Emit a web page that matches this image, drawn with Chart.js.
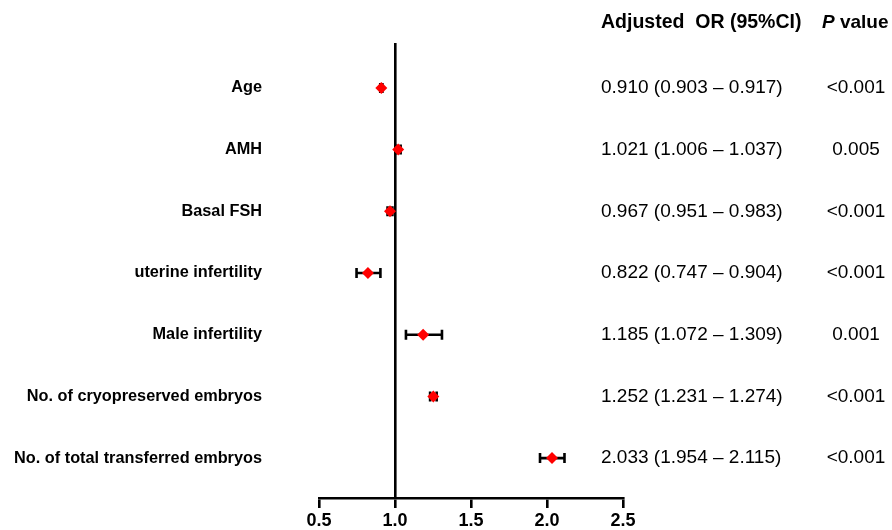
<!DOCTYPE html>
<html>
<head>
<meta charset="utf-8">
<script src="https://cdn.jsdelivr.net/npm/chart.js@4"></script>
<style>
html,body{margin:0;padding:0;background:#fff;}
#wrap{width:892px;height:530px;position:relative;}
</style>
</head>
<body>
<div id="wrap"><canvas id="c" width="892" height="530"></canvas></div>
<script>
const categories = ["Age","AMH","Basal FSH","uterine infertility","Male infertility","No. of cryopreserved embryos","No. of total transferred embryos"];
const orValues = [0.910, 1.021, 0.967, 0.822, 1.185, 1.252, 2.033];
const ciLower = [0.903, 1.006, 0.951, 0.747, 1.072, 1.231, 1.954];
const ciUpper = [0.917, 1.037, 0.983, 0.904, 1.309, 1.274, 2.115];
const ciText = ["0.910 (0.903 \u2013 0.917)","1.021 (1.006 \u2013 1.037)","0.967 (0.951 \u2013 0.983)","0.822 (0.747 \u2013 0.904)","1.185 (1.072 \u2013 1.309)","1.252 (1.231 \u2013 1.274)","2.033 (1.954 \u2013 2.115)"];
const pValues = ["<0.001","0.005","<0.001","<0.001","0.001","<0.001","<0.001"];
const xTicks = [0.5, 1.0, 1.5, 2.0, 2.5];

const FONT = "'Liberation Sans', Arial, sans-serif";

const errorBars = {
  id: 'errorBars',
  beforeDatasetsDraw(chart) {
    const {ctx, scales: {x, y}} = chart;
    ctx.save();
    ctx.strokeStyle = '#000';
    ctx.lineWidth = 2.6;
    ctx.lineCap = 'butt';
    for (let i = 0; i < orValues.length; i++) {
      const py = y.getPixelForValue(i + 1);
      const x1 = x.getPixelForValue(ciLower[i]);
      const x2 = x.getPixelForValue(ciUpper[i]);
      ctx.beginPath();
      ctx.moveTo(x1, py); ctx.lineTo(x2, py);
      ctx.moveTo(x1, py - 5); ctx.lineTo(x1, py + 5);
      ctx.moveTo(x2, py - 5); ctx.lineTo(x2, py + 5);
      ctx.stroke();
    }
    ctx.restore();
  }
};

const sideText = {
  id: 'sideText',
  afterDraw(chart) {
    const {ctx, scales: {y}} = chart;
    ctx.save();
    ctx.fillStyle = '#000';
    ctx.textBaseline = 'middle';
    ctx.font = "bold 19.5px " + FONT;
    ctx.textAlign = 'left';
    ctx.fillText("Adjusted  OR (95%CI)", 601, 23);
    ctx.font = "italic bold 19px " + FONT;
    const pw = ctx.measureText("P").width;
    ctx.fillText("P", 822, 23);
    ctx.font = "bold 19px " + FONT;
    ctx.fillText(" value", 822 + pw, 23);
    ctx.font = "19px " + FONT;
    for (let i = 0; i < ciText.length; i++) {
      const py = y.getPixelForValue(i + 1);
      ctx.textAlign = 'left';
      ctx.fillText(ciText[i], 601, py);
      ctx.textAlign = 'center';
      ctx.fillText(pValues[i], 856, py);
    }
    ctx.restore();
  }
};

new Chart(document.getElementById('c'), {
  type: 'scatter',
  data: {
    datasets: [{
      data: orValues.map((v, i) => ({x: v, y: i + 1})),
      pointStyle: 'rectRot',
      pointRadius: 6,
      pointHoverRadius: 6,
      backgroundColor: '#ff0000',
      borderColor: '#ff0000',
      borderWidth: 0
    }]
  },
  options: {
    responsive: false,
    animation: false,
    events: [],
    layout: {padding: {top: 43, right: 269, bottom: 0, left: 0}},
    plugins: {legend: {display: false}, tooltip: {enabled: false}},
    scales: {
      x: {
        type: 'linear',
        min: 0.5, max: 2.5,
        afterBuildTicks: (s) => { s.ticks = xTicks.map(v => ({value: v})); },
        afterFit: (s) => { s.height = 32; },
        border: {display: true, color: '#000', width: 2.6},
        grid: {
          display: true,
          drawOnChartArea: true,
          drawTicks: true,
          tickLength: 10,
          tickColor: '#000',
          tickWidth: 2.6,
          lineWidth: 2.6,
          color: (c) => (c.tick && c.tick.value === 1) ? '#000' : 'rgba(0,0,0,0)'
        },
        ticks: {
          color: '#000',
          padding: 2,
          font: {family: FONT, size: 18, weight: 'bold'},
          callback: (v) => Number(v).toFixed(1)
        }
      },
      y: {
        type: 'linear',
        reverse: true,
        min: 0.272, max: 7.647,
        afterBuildTicks: (s) => { s.ticks = categories.map((c, i) => ({value: i + 1})); },
        afterFit: (s) => { s.width = 319; },
        border: {display: false},
        grid: {display: false, drawTicks: true, tickLength: 57},
        ticks: {
          color: '#000',
          padding: 0,
          font: {family: FONT, size: 16.3, weight: 'bold'},
          callback: (v) => categories[Math.round(v) - 1] || ''
        }
      }
    }
  },
  plugins: [errorBars, sideText]
});
</script>
</body>
</html>
